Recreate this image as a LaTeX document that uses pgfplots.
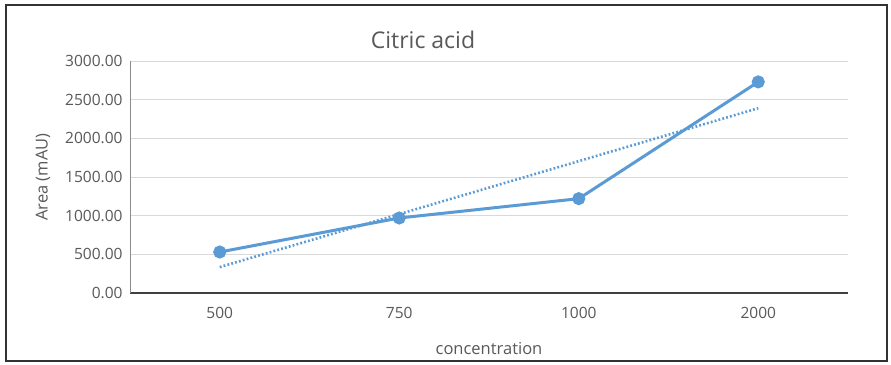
\documentclass[border=0pt]{standalone}
\usepackage{pgfplots}
\pgfplotsset{compat=1.18}
\usepackage{fontspec}
\setmainfont{Open Sans}
\definecolor{excelblue}{HTML}{5B9BD5}
\definecolor{labelgray}{HTML}{595959}
\definecolor{gridgray}{HTML}{D9D9D9}
\begin{document}
\begin{tikzpicture}[x=1bp,y=1bp]
  % canvas and chart frame
  \fill[white] (0,0) rectangle (891,364);
  \draw[black!80, line width=2bp] (6,3) rectangle (887,359);
  \begin{axis}[
    at={(130bp,71bp)}, anchor=south west,
    scale only axis, width=718bp, height=232bp,
    xmin=-0.5, xmax=3.5, ymin=0, ymax=3000,
    xtick={0,1,2,3}, xticklabels={500,750,1000,2000},
    ytick={0,500,...,3000},
    axis x line=bottom, axis y line=left,
    x axis line style={-, black!75, line width=1.4bp},
    y axis line style={-, black!45, line width=1bp},
    ymajorgrids, grid style={gridgray, line width=0.9bp},
    major tick length=0pt,
    /pgf/number format/assume math mode=true,
    yticklabel={\pgfmathprintnumber[fixed,fixed zerofill,precision=2,1000 sep={}]{\tick}},
    tick label style={font=\fontsize{15.5bp}{18bp}\selectfont, text=labelgray},
    xticklabel style={yshift=-11bp},
    yticklabel style={xshift=-4bp},
    xlabel={concentration},
    ylabel={Area (mAU)},
    label style={font=\fontsize{16.5bp}{19bp}\selectfont, text=labelgray},
    xlabel style={at={(axis description cs:0.5,-0.241)}, anchor=center},
    ylabel style={at={(axis description cs:-0.121,0.5)}, anchor=center},
    clip=false,
  ]
    % linear trend of the measured areas
    \addplot[excelblue, line width=2.6bp, dash pattern=on 1.8bp off 2.2bp]
      coordinates {(0,335) (3,2390)};
    % measured peak areas
    \addplot[excelblue, line width=3bp, mark=*, mark size=5bp,
      mark options={solid, fill=excelblue, draw=none}]
      coordinates {(0,530) (1,970) (2,1220) (3,2730)};
  \end{axis}
  \node[text=labelgray, font=\fontsize{23bp}{27bp}\selectfont] at (423,324) {Citric acid};
\end{tikzpicture}
\end{document}
